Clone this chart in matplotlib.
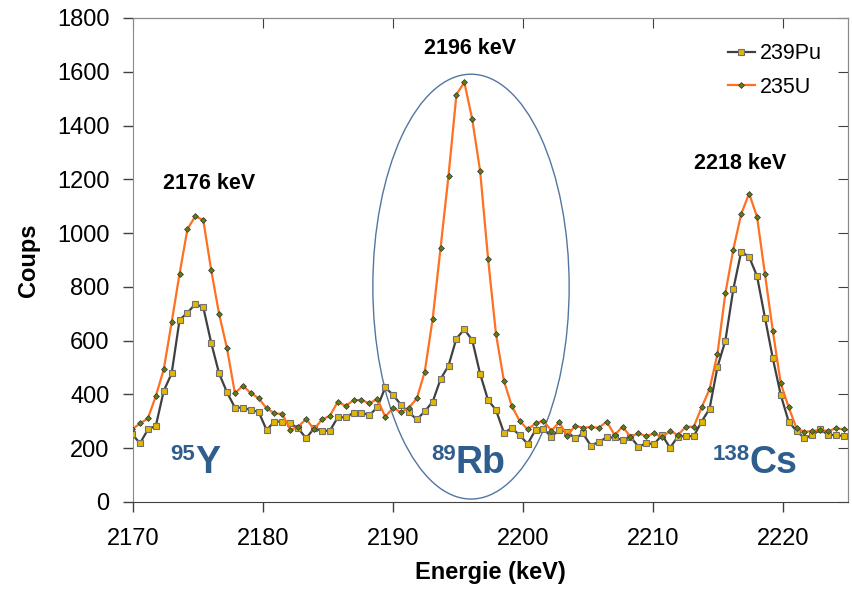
import numpy as np
import matplotlib.pyplot as plt
from matplotlib.patches import Ellipse

plt.rcParams['font.family'] = ['Liberation Sans', 'DejaVu Sans']

# calibration of the channels (keV)
E0 = 2169.93
GAIN = 0.6085

pu239 = [253, 218, 270, 283, 413, 478, 677, 704, 736, 724,
         592, 478, 408, 351, 351, 342, 335, 268, 299, 299,
         292, 274, 237, 274, 265, 265, 315, 315, 332, 332,
         323, 352, 426, 398, 361, 333, 307, 337, 373, 457,
         507, 608, 642, 602, 476, 379, 342, 258, 274, 249,
         216, 268, 272, 243, 268, 261, 237, 255, 209, 224,
         240, 240, 230, 243, 206, 218, 216, 249, 202, 243,
         245, 245, 299, 347, 502, 600, 791, 931, 912, 840,
         686, 534, 398, 299, 264, 237, 249, 270, 249, 249,
         245, 245]

u235 = [270, 292, 311, 394, 493, 668, 849, 1015, 1063, 1048,
        862, 699, 571, 404, 433, 405, 386, 348, 330, 327,
        268, 280, 309, 270, 307, 320, 373, 357, 379, 379,
        367, 383, 317, 351, 333, 351, 385, 485, 682, 946,
        1214, 1515, 1561, 1423, 1230, 905, 625, 451, 357, 301,
        270, 292, 303, 265, 297, 245, 284, 276, 279, 276,
        299, 249, 280, 243, 255, 245, 255, 240, 264, 249,
        280, 280, 352, 420, 551, 776, 939, 1071, 1147, 1061,
        848, 636, 441, 352, 274, 261, 264, 268, 264, 274,
        270, 265]

energy = E0 + GAIN * np.arange(len(u235))

peak_labels = ['2176 keV', '2196 keV', '2218 keV']
peak_pos = [(2175.85, 1186), (2195.9, 1688), (2216.7, 1260)]

iso_mass = ['95', '89', '138']
iso_name = ['Y', 'Rb', 'Cs']
iso_x = [2174.77, 2194.81, 2217.45]

xticks = [2170, 2180, 2190, 2200, 2210, 2220]
yticks = list(range(0, 2000, 200))

blue = '#2e5d8e'

fig = plt.figure(figsize=(8.52, 5.9), dpi=100)
ax = fig.add_axes([133 / 852, 1 - 502 / 590, 715 / 852, 484 / 590])

ax.plot(energy, pu239, color='#404040', lw=1.6, marker='s', ms=4.2,
        mfc='#e2b700', mec='#707070', mew=0.8, label='239Pu', zorder=3)
ax.plot(energy, u235, color='#ff7020', lw=1.6, marker='D', ms=3.0,
        mfc='#5f7f10', mec='#303030', mew=0.5, label='235U', zorder=4)

ax.add_patch(Ellipse((2196.0, 801), 15.1, 1580, fill=False,
                     ec='#52779f', lw=1.0, zorder=2))

ax.set_xlim(2170, 2225)
ax.set_ylim(0, 1800)
ax.set_xticks(xticks)
ax.set_yticks(yticks)
ax.tick_params(direction='out', length=7, width=1, labelsize=17,
               color='#404040')
ax.tick_params(axis='x', pad=12)
ax.tick_params(axis='y', pad=10)

for side in ['left', 'right', 'top']:
    ax.spines[side].set_color('#8a8a8a')
ax.spines['bottom'].set_color('#404040')

top = ax.secondary_xaxis('top')
top.set_xticks(xticks)
top.tick_params(direction='in', length=7, labeltop=False, color='#404040')
top.spines['top'].set_color('#8a8a8a')
right = ax.secondary_yaxis('right')
right.set_yticks(yticks)
right.tick_params(direction='in', length=7, labelright=False, color='#404040')
right.spines['right'].set_color('#8a8a8a')

ax.set_xlabel('Energie (keV)', fontsize=17, fontweight='bold', labelpad=8)
ax.set_ylabel('Coups', fontsize=17, fontweight='bold', labelpad=12)

for lab, (x, y) in zip(peak_labels, peak_pos):
    ax.text(x, y, lab, ha='center', va='center', fontsize=15.5,
            fontweight='bold')

for m, n, x in zip(iso_mass, iso_name, iso_x):
    ax.text(x, 156, m, ha='right', va='baseline', fontsize=16,
            fontweight='bold', color=blue)
    ax.text(x, 108, n, ha='left', va='baseline', fontsize=27,
            fontweight='bold', color=blue)

ax.legend(loc='upper left', bbox_to_anchor=(0.832, 0.948), frameon=False,
          fontsize=15.5, handlelength=1.25, handletextpad=0.25,
          borderpad=0, borderaxespad=0, labelspacing=0.58)

fig.savefig('out.png', dpi=100)
